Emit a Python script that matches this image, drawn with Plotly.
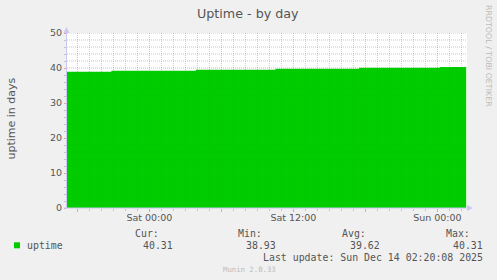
import pandas as pd
import plotly.graph_objects as go

# ---- data ----
step_times = ["2025-12-12 17:08", "2025-12-12 20:50", "2025-12-13 03:52",
              "2025-12-13 10:30", "2025-12-13 17:28", "2025-12-14 00:12",
              "2025-12-14 02:24"]
uptime_days = [38.93, 39.20, 39.50, 39.78, 40.05, 40.31, 40.31]

x_tick_vals = ["2025-12-12 18:00", "2025-12-13 00:00", "2025-12-13 06:00",
               "2025-12-13 12:00", "2025-12-13 18:00", "2025-12-14 00:00"]
x_tick_text = ["", "Sat 00:00", "", "Sat 12:00", "", "Sun 00:00"]
x_range = ["2025-12-12 17:08", "2025-12-14 02:28"]
y_tick_vals = [0, 10, 20, 30, 40, 50]
y_minor_step = 2

stat_labels = ["Cur:", "Min:", "Avg:", "Max:"]
stat_values = ["40.31", "38.93", "39.62", "40.31"]
series_name = "uptime"
title_text = "Uptime - by day"
y_title = "uptime in days"
last_update = "Last update: Sun Dec 14 02:20:08 2025"
footer = "Munin 2.0.33"
watermark = "RRDTOOL / TOBI OETIKER"

# ---- layout geometry (pixels) ----
W, H = 497, 280
L, R, T, B = 67, 30, 33, 72
PW, PH = W - L - R, H - T - B


def px(x):
    return (x - L) / PW


def py(y):
    return (H - B - y) / PH


SANS = "DejaVu Sans"
MONO = "DejaVu Sans Mono"
TXT = "#555555"
MAJ = "rgba(235,70,70,0.45)"
MIN = "rgba(110,110,110,0.38)"
MAJ_TICK = "#EBA0A0"
MIN_TICK = "#C4C4C4"
AXC = "#C8C8F0"
DOT = "1px,1px"

fig = go.Figure()
fig.add_trace(go.Scatter(
    x=step_times, y=uptime_days, mode="lines", line=dict(width=0, shape="hv"),
    fill="tozeroy", fillcolor="#00CC00", name=series_name, showlegend=False,
    hoverinfo="skip"))

fig.update_layout(
    width=W, height=H, margin=dict(l=L, r=R, t=T, b=B, pad=0),
    paper_bgcolor="#F0F0F0", plot_bgcolor="#FFFFFF",
    font=dict(family=SANS, color=TXT, size=9.5),
    showlegend=False,
)
fig.update_xaxes(
    type="date", range=x_range, tickmode="array", tickvals=x_tick_vals,
    ticktext=x_tick_text, showgrid=False, ticks="outside", ticklen=3,
    tickcolor=MAJ_TICK, showline=False, zeroline=False,
    ticklabelstandoff=-2,
    tickfont=dict(family=SANS, size=9.5, color=TXT),
    minor=dict(dtick=3600000, tick0="2025-12-12 00:00", showgrid=False,
               ticks="outside", ticklen=2, tickcolor=MIN_TICK),
)
fig.update_yaxes(
    range=[0, 50], tickmode="array", tickvals=y_tick_vals,
    showgrid=False, ticks="outside", ticklen=2, tickcolor=MAJ_TICK,
    showline=False, zeroline=False,
    tickfont=dict(family=SANS, size=9.5, color=TXT),
    minor=dict(dtick=y_minor_step, showgrid=False, ticks="outside",
               ticklen=2, tickcolor=MIN_TICK),
)

# grid drawn over the area, like rrdtool
major_x = set(pd.to_datetime(x_tick_vals))
for t in pd.date_range("2025-12-12 18:00", "2025-12-14 02:00", freq="1h"):
    col = MAJ if t in major_x else MIN
    fig.add_shape(type="line", xref="x", yref="paper", x0=t, x1=t, y0=0, y1=1,
                  line=dict(color=col, width=1, dash=DOT), layer="above")
for v in range(y_minor_step, 51, y_minor_step):
    col = MAJ if v in y_tick_vals else MIN
    fig.add_shape(type="line", xref="paper", yref="y", x0=0, x1=1, y0=v, y1=v,
                  line=dict(color=col, width=1, dash=DOT), layer="above")

# axis lines and arrows
fig.add_shape(type="line", xref="paper", yref="paper",
              x0=px(66.5), x1=px(66.5), y0=py(208), y1=py(29),
              line=dict(color=AXC, width=1), layer="above")
fig.add_shape(type="line", xref="paper", yref="paper",
              x0=px(64), x1=px(470), y0=py(208), y1=py(208),
              line=dict(color=AXC, width=1), layer="above")
fig.add_shape(type="path", xref="paper", yref="paper",
              path=f"M {px(63.5)} {py(33)} L {px(69.5)} {py(33)} L {px(66.5)} {py(27)} Z",
              fillcolor=AXC, line=dict(width=0), layer="above")
fig.add_shape(type="path", xref="paper", yref="paper",
              path=f"M {px(467)} {py(205)} L {px(467)} {py(211)} L {px(473)} {py(208)} Z",
              fillcolor=AXC, line=dict(width=0), layer="above")


def ann(text, x, y, xanchor="left", yanchor="middle", size=9.9, family=MONO,
        color=TXT, angle=0):
    fig.add_annotation(text=text, x=px(x), y=py(y), xref="paper", yref="paper",
                       xanchor=xanchor, yanchor=yanchor, showarrow=False,
                       textangle=angle, borderpad=0, borderwidth=0,
                       font=dict(family=family, size=size, color=color))


ann(title_text, 248, 13.5, xanchor="center", size=12.7, family=SANS)
ann(y_title, 10.5, 119, xanchor="center", size=11, family=SANS, angle=-90)
ann(watermark, 489, 56, xanchor="center", size=7.9, family=SANS,
    color="#BBBBBB", angle=90)

# legend
fig.add_shape(type="rect", xref="paper", yref="paper",
              x0=px(14), x1=px(20), y0=py(242.3), y1=py(248.3),
              fillcolor="#00CC00", line=dict(width=0))
ann(series_name, 26.5, 245.3)
label_right = [158.5, 262, 365.5, 469.5]
value_right = [172.5, 276, 379.5, 483]
for lab, xr in zip(stat_labels, label_right):
    ann(lab, xr, 233.7, xanchor="right")
for val, xr in zip(stat_values, value_right):
    ann(val, xr, 245.3, xanchor="right")
ann(last_update, 483, 257.8, xanchor="right")
ann(footer, 249, 269, xanchor="center", size=7.3, color="#BBBBBB")

fig.write_html("out.html")
